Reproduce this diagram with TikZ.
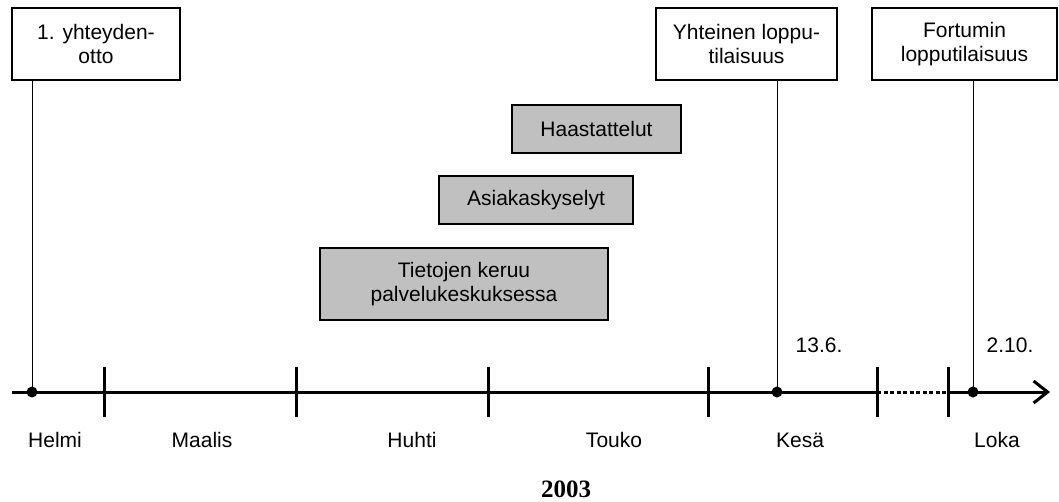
\documentclass[tikz,border=0pt]{standalone}
\usepackage{fontspec}
\setmainfont{Liberation Sans}
\newfontfamily\yearfont{Liberation Serif}
\usetikzlibrary{arrows.meta}
\definecolor{PhaseGray}{RGB}{192,192,192}

\begin{document}
\begin{tikzpicture}[x=1pt,y=-1pt,
  evt/.style n args={2}{draw,line width=1.5pt,fill=white,minimum width=#1pt,minimum height=#2pt,inner sep=0pt,align=center,font=\fontsize{21}{24}\selectfont},
  phasebox/.style n args={2}{evt={#1}{#2},fill=PhaseGray},
  lbl/.style={anchor=base,font=\fontsize{21}{24}\selectfont},
  axis/.style={line width=3pt},
  mtick/.style={line width=3pt},
  stem/.style={line width=1pt}]
\useasboundingbox (0,0) rectangle (1059,501);
% events on top
\node[evt={168}{72}] (e1) at (96,44) {1. yhteyden-\\otto};
\node[evt={181}{72}] (e2) at (746.5,44) {Yhteinen loppu-\\tilaisuus};
\node[evt={185}{72}] (e3) at (964.5,44) {Fortumin\\lopputilaisuus};
% phases
\node[phasebox={169}{48}] (p1) at (596.5,129) {Haastattelut};
\node[phasebox={194}{48}] (p2) at (536,200) {Asiakaskyselyt};
\node[phasebox={288}{72}] (p3) at (464,284) {Tietojen keruu\\palvelukeskuksessa};
% time axis
\coordinate (ax0) at (12,392);
\coordinate (gap1) at (877,392);
\coordinate (gap2) at (948,392);
\coordinate (axEnd) at (1050,392);
\draw[axis] (ax0) -- (gap1);
\draw[axis,dash pattern=on 4pt off 2.5pt] (gap1) -- (gap2);
\draw[axis,-{Straight Barb[length=14pt,width=22pt]}] (gap2) -- (axEnd);
\foreach \x in {104,296,488,708,877,948} {
   \draw[mtick] (\x,367) -- (\x,417);
}
\coordinate (d1) at (32,392);
\coordinate (d2) at (777,392);
\coordinate (d3) at (973,392);
\foreach \i in {1,2,3} {
   \draw[stem] (e\i.south -| d\i) -- (d\i);
   \fill (d\i) circle (5.5pt);
}
\foreach \x/\m [count=\i] in {55/Helmi,202/Maalis,412/Huhti,614/Touko,800/Kesä,997/Loka} {
   \node[lbl] (m\i) at (\x,447) {\m};
}
\node[lbl] (date1) at (819,352) {13.6.};
\node[lbl] (date2) at (1010,352) {2.10.};
\node[anchor=base,inner sep=0pt,font=\yearfont\bfseries\fontsize{25}{30}\selectfont] (year) at (566,497) {2003};
\end{tikzpicture}
\end{document}
